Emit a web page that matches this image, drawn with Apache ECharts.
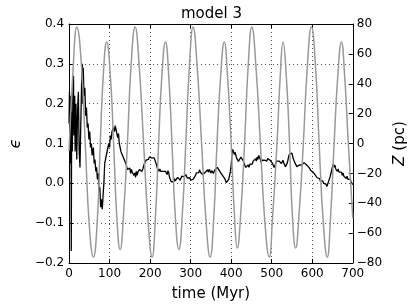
<!DOCTYPE html>
<html><head><meta charset="utf-8">
<script src="https://cdn.jsdelivr.net/npm/echarts@6/dist/echarts.min.js"></script>
<style>html,body{margin:0;padding:0;background:#fff}#c{width:416px;height:307px}</style>
</head><body><div id="c"></div>
<script>
// epsilon (black) series: time (Myr) and value
const epsTime = [0,1,2,3,4,5,5.5,6.5,8,10,11,12,14,15,17,19,21,23,25,27,29,31,33,34,35,37,39,41,43,45,47,49,51,53,55,57,60,62,64,66,68,70,72,74,76,78,80,82,84,86,88,90,92,94,96,98,100,102,104,106,108,110,112,114,116,118,120,122,124,126,128,130,132,134,136,138,140,142,144,146,148,150,152,154,156,158,160,162,164,166,168,170,172,174,176,178,180,182,184,186,188,190,192,194,196,198,200,202,204,206,208,210,212,214,216,218,220,222,224,226,228,230,232,234,236,238,240,242,244,246,248,250,252,254,256,258,260,262,264,266,268,270,272,274,276,278,280,282,284,286,288,290,292,294,296,298,300,302,304,306,308,310,312,314,316,318,320,322,324,326,328,330,332,334,336,338,340,342,344,346,348,350,352,354,356,358,360,362,364,366,368,370,372,374,376,378,380,382,384,386,388,390,392,394,396,398,400,402,404,406,408,410,412,414,416,418,420,422,424,426,428,430,432,434,436,438,440,442,444,446,448,450,452,454,456,458,460,462,464,466,468,470,472,474,476,478,480,482,484,486,488,490,492,494,496,498,500,502,504,506,508,510,512,514,516,518,520,522,524,526,528,530,532,534,536,538,540,542,544,546,548,550,552,554,556,558,560,562,564,566,568,570,572,574,576,578,580,582,584,586,588,590,592,594,596,598,600,602,604,606,608,610,612,614,616,618,620,622,624,626,628,630,632,634,636,638,640,642,644,646,648,650,652,654,656,658,660,662,664,666,668,670,672,674,676,678,680,682,684,686,688,690,692,694,696,698,700];
const epsValues = [0.15,0.23,0.10,0.22,0.05,0.20,-0.17,0.18,0.08,0.26,0.27,0.12,0.22,0.08,0.20,0.06,0.18,0.23,0.08,0.04,0.15,0.25,0.30,0.20,0.29,0.22,0.24,0.17,0.19,0.14,0.15,0.11,0.13,0.09,0.10,0.07,0.09,0.05,0.06,0.03,0.04,0.01,0.025,-0.02,-0.01,-0.06,-0.04,-0.065,-0.03,0.0,0.05,0.06,0.055,0.08,0.075,0.10,0.09,0.12,0.11,0.13,0.125,0.14,0.13,0.145,0.135,0.14,0.115,0.125,0.10,0.095,0.08,0.085,0.07,0.075,0.06,0.065,0.05,0.045,0.035,0.04,0.03,0.038,0.025,0.035,0.028,0.03,0.02,0.026,0.015,0.03,0.02,0.028,0.024,0.035,0.03,0.038,0.03,0.036,0.04,0.05,0.048,0.058,0.055,0.062,0.06,0.066,0.062,0.068,0.064,0.066,0.06,0.064,0.058,0.052,0.045,0.038,0.035,0.03,0.036,0.03,0.033,0.026,0.03,0.028,0.035,0.03,0.028,0.022,0.032,0.026,0.015,0.01,0.004,0.002,0.008,0.004,0.012,0.006,0.01,0.008,0.015,0.01,0.014,0.008,0.012,0.018,0.014,0.02,0.016,0.012,0.022,0.018,0.013,0.016,0.01,0.014,0.008,0.012,0.006,0.01,0.014,0.008,0.02,0.026,0.022,0.03,0.027,0.034,0.028,0.024,0.03,0.022,0.026,0.02,0.028,0.024,0.03,0.034,0.028,0.035,0.03,0.026,0.032,0.028,0.025,0.03,0.034,0.038,0.033,0.04,0.044,0.036,0.03,0.034,0.024,0.026,0.018,0.02,0.012,0.01,0.002,0.005,-0.002,0.01,0.02,0.03,0.045,0.075,0.085,0.08,0.072,0.078,0.068,0.062,0.064,0.055,0.06,0.058,0.066,0.07,0.062,0.056,0.05,0.045,0.04,0.036,0.042,0.046,0.04,0.048,0.045,0.052,0.048,0.055,0.05,0.058,0.062,0.056,0.066,0.06,0.07,0.066,0.06,0.052,0.058,0.056,0.062,0.058,0.055,0.06,0.056,0.062,0.058,0.064,0.058,0.06,0.055,0.05,0.045,0.04,0.045,0.05,0.056,0.052,0.06,0.056,0.06,0.054,0.05,0.052,0.058,0.05,0.046,0.042,0.045,0.05,0.058,0.068,0.074,0.078,0.072,0.076,0.066,0.06,0.058,0.05,0.048,0.042,0.044,0.04,0.046,0.044,0.048,0.046,0.05,0.047,0.052,0.048,0.05,0.046,0.05,0.044,0.04,0.036,0.033,0.035,0.03,0.028,0.024,0.026,0.02,0.018,0.014,0.016,0.01,0.012,0.006,0.01,0.004,0.006,0.0,0.003,-0.004,-0.002,-0.008,-0.004,0.004,0.01,0.016,0.024,0.034,0.042,0.048,0.04,0.046,0.036,0.04,0.03,0.036,0.028,0.032,0.024,0.028,0.02,0.026,0.018,0.016,0.02,0.012,0.018,0.01,0.014,0.006,0.01,0.003,0.006,-0.003];
// vertical position Z (grey) series: time (Myr) and Z (pc)
const zTime = [0,10,19.4,30,40,50,60,70,77,85,92.8,102,110,118,126,135,144,153,163,173,184,195,205,213,221,229,238,246,254,262,271,280,288,297,306,316,327,338,348,357,365,374,383,391,400,408,415,424,433,442,451,461,472,483,494,502,513,521,528,536,544,551,559,568,578,588,598,608,617,627,637,645,654,663,672,680,689,700];
const zValues = [-5,50,78,55,0,-55,-76,-50,0,48,68,45,0,-50,-71,-45,0,52,78,52,0,-52,-76,-50,0,45,68,45,0,-48,-71,-45,0,52,78,52,0,-52,-76,-50,0,45,68,45,0,-48,-70,-45,0,52,78,52,0,-52,-76,-50,0,45,68,45,0,-48,-70,-45,0,52,78,52,0,-52,-76,-50,0,45,68,45,0,-50];
const xTicks = [0,100,200,300,400,500,600,700];
const epsTicks = [-0.2,-0.1,0.0,0.1,0.2,0.3,0.4];
const zTicks = [-80,-60,-40,-20,0,20,40,60,80];

const FONT = 'DejaVu Sans';
const minus = s => s.replace('-', '\u2212');
const chart = echarts.init(document.getElementById('c'), null, {renderer: 'canvas'});
const tickStyle = {show: true, inside: true, length: 4, lineStyle: {color: '#000', width: 1}};
const lineStyle = {show: true, onZero: false, lineStyle: {color: '#000', width: 1}};
const grid = {type: [1, 3], color: '#222', width: 0.8};
chart.setOption({
  animation: false,
  backgroundColor: '#fff',
  grid: {left: 67, right: 60, top: 24, bottom: 44, containLabel: false},
  graphic: [{type: 'text', x: 211.5, y: 14, style: {text: 'model 3', font: '15px "DejaVu Sans"', fill: '#000', align: 'center', verticalAlign: 'middle'}}],
  xAxis: [
    {type: 'value', position: 'bottom', min: xTicks[0], max: xTicks[xTicks.length-1], interval: 100,
     axisLine: lineStyle, axisTick: tickStyle,
     axisLabel: {fontFamily: FONT, fontSize: 12, color: '#000', margin: 5, formatter: v => String(v)},
     splitLine: {show: true, lineStyle: grid},
     name: 'time (Myr)', nameLocation: 'middle', nameGap: 24,
     nameTextStyle: {fontFamily: FONT, fontSize: 15, color: '#000'}},
    {type: 'value', position: 'top', min: xTicks[0], max: xTicks[xTicks.length-1], interval: 100,
     axisLine: lineStyle, axisTick: tickStyle, axisLabel: {show: false}, splitLine: {show: false}}
  ],
  yAxis: [
    {type: 'value', position: 'left', min: epsTicks[0], max: epsTicks[epsTicks.length-1], interval: 0.1,
     axisLine: lineStyle, axisTick: tickStyle,
     axisLabel: {fontFamily: FONT, fontSize: 12, color: '#000', margin: 5, formatter: v => minus(v.toFixed(1))},
     splitLine: {show: true, lineStyle: grid},
     name: '\u03f5', nameLocation: 'middle', nameGap: 42, nameRotate: 90,
     nameTextStyle: {fontFamily: FONT, fontSize: 16, color: '#000', fontStyle: 'italic'}},
    {type: 'value', position: 'right', min: zTicks[0], max: zTicks[zTicks.length-1], interval: 20,
     axisLine: lineStyle, axisTick: tickStyle,
     axisLabel: {fontFamily: FONT, fontSize: 12, color: '#000', margin: 4, formatter: v => minus(String(v))},
     splitLine: {show: false},
     name: '{i|Z} (pc)', nameLocation: 'middle', nameGap: 36, nameRotate: 90,
     nameTextStyle: {fontFamily: FONT, fontSize: 15, color: '#000',
       rich: {i: {fontFamily: FONT, fontSize: 15, fontStyle: 'italic', color: '#000'}}}}
  ],
  series: [
    {type: 'line', xAxisIndex: 0, yAxisIndex: 0, showSymbol: false, z: 2,
     lineStyle: {color: '#000', width: 1.3}, data: epsTime.map((t, i) => [t, epsValues[i]])},
    {type: 'line', xAxisIndex: 0, yAxisIndex: 1, showSymbol: false, smooth: 0.5, z: 3,
     lineStyle: {color: '#999', width: 1.5}, data: zTime.map((t, i) => [t, zValues[i]])}
  ]
});
</script></body></html>
